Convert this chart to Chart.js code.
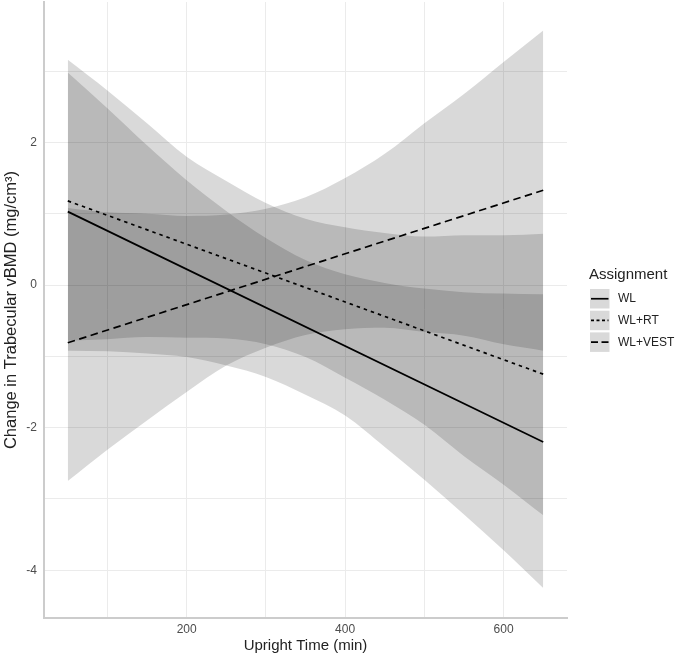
<!DOCTYPE html>
<html>
<head>
<meta charset="utf-8">
<script src="https://cdn.jsdelivr.net/npm/chart.js@4.4.0/dist/chart.umd.min.js"></script>
<style>
  html, body { margin: 0; padding: 0; background: #fff; }
</style>
</head>
<body>
<canvas id="chart" width="676" height="656"></canvas>
<script>
const uprightTime = [50, 100, 150, 200, 250, 300, 350, 400, 450, 500, 550, 600, 650];

const groups = ['WL', 'WL+RT', 'WL+VEST'];

// fitted lines are straight, so only their end points
const lineTime = [50, 650];
const wlFit = [1.03, -2.20];
const rtFit = [1.18, -1.25];
const vestFit = [-0.81, 1.33];

// confidence ribbons
const wlUpper = [2.98, 2.48, 1.96, 1.47, 1.04, 0.66, 0.35, 0.15, 0.03, -0.05, -0.10, -0.12, -0.13];
const wlLower = [-0.92, -0.93, -0.96, -1.01, -1.13, -1.29, -1.54, -1.83, -2.27, -2.73, -3.22, -3.72, -4.25];
const rtUpper = [3.16, 2.73, 2.27, 1.80, 1.46, 1.15, 0.93, 0.81, 0.73, 0.68, 0.70, 0.70, 0.72];
const rtLower = [-0.78, -0.76, -0.73, -0.74, -0.75, -0.83, -1.01, -1.30, -1.61, -1.96, -2.40, -2.80, -3.23];
const vestUpper = [1.08, 1.02, 1.00, 0.97, 0.99, 1.07, 1.23, 1.50, 1.84, 2.27, 2.68, 3.13, 3.57];
const vestLower = [-2.75, -2.31, -1.90, -1.50, -1.13, -0.88, -0.70, -0.62, -0.60, -0.66, -0.71, -0.83, -0.92];

// labelled ticks (the others are minor grid lines)
const xTickLabels = [200, 400, 600];
const yTickLabels = [-4, -2, 0, 2];

const FONT = '"Liberation Sans", Arial, sans-serif';
const ribbonFill = 'rgba(0,0,0,0.15)';
const lineDashes = [[], [3.5, 4], [7.5, 4.5]];
const keyDashes = [[], [3, 2.5], [7, 3.5]];

const toXY = (xs, ys) => xs.map((x, i) => ({ x: x, y: ys[i] }));

function ribbon(lo, hi) {
  const base = {
    borderColor: 'rgba(0,0,0,0)', borderWidth: 0, pointRadius: 0,
    cubicInterpolationMode: 'monotone', order: 2
  };
  return [
    Object.assign({ data: toXY(uprightTime, lo), fill: false }, base),
    Object.assign({ data: toXY(uprightTime, hi), fill: '-1', backgroundColor: ribbonFill }, base)
  ];
}

function fitLine(ys, i) {
  return {
    data: toXY(lineTime, ys), borderColor: '#000', borderWidth: 1.7,
    borderDash: lineDashes[i], pointRadius: 0, fill: false, order: 1
  };
}

// ggplot-like legend with grey key boxes
const assignmentLegend = {
  id: 'assignmentLegend',
  afterDraw(chart) {
    const ctx = chart.ctx;
    ctx.save();
    ctx.fillStyle = '#222';
    ctx.textBaseline = 'middle';
    ctx.font = '15px ' + FONT;
    ctx.fillText('Assignment', 589, 275);
    groups.forEach((g, i) => {
      const top = 289 + i * 21.7;
      ctx.fillStyle = '#d9d9d9';
      ctx.fillRect(590, top, 19.5, 19.5);
      ctx.strokeStyle = '#000';
      ctx.lineWidth = 1.7;
      ctx.setLineDash(keyDashes[i]);
      ctx.beginPath();
      ctx.moveTo(591, top + 9.75);
      ctx.lineTo(608.5, top + 9.75);
      ctx.stroke();
      ctx.setLineDash([]);
      ctx.fillStyle = '#222';
      ctx.font = '12px ' + FONT;
      ctx.fillText(g, 618, top + 10);
    });
    ctx.restore();
  }
};

new Chart(document.getElementById('chart'), {
  type: 'line',
  data: {
    datasets: [
      ...ribbon(wlLower, wlUpper),
      ...ribbon(rtLower, rtUpper),
      ...ribbon(vestLower, vestUpper),
      fitLine(wlFit, 0),
      fitLine(rtFit, 1),
      fitLine(vestFit, 2)
    ]
  },
  options: {
    responsive: false,
    animation: false,
    devicePixelRatio: 1,
    layout: { padding: { top: 2, right: 109, left: 0, bottom: 0 } },
    plugins: {
      legend: { display: false },
      tooltip: { enabled: false },
      filler: { drawTime: 'beforeDatasetsDraw' }
    },
    scales: {
      x: {
        type: 'linear', min: 20, max: 680,
        ticks: {
          stepSize: 100, includeBounds: false, autoSkip: false, maxRotation: 0,
          callback: v => xTickLabels.includes(v) ? String(v) : '',
          color: '#4d4d4d', font: { family: FONT, size: 12 }, padding: 4
        },
        grid: { color: '#ebebeb', lineWidth: 1, drawTicks: false },
        border: { color: '#cccccc', width: 2 },
        title: {
          display: true, text: 'Upright Time (min)', color: '#222',
          font: { family: FONT, size: 15 }, padding: { top: 0, bottom: 1 }
        },
        afterFit: s => { s.height = 38; s.paddingLeft = 0; s.paddingRight = 0; }
      },
      y: {
        type: 'linear', min: -4.67, max: 3.97,
        ticks: {
          stepSize: 1, includeBounds: false, autoSkip: false,
          callback: v => yTickLabels.includes(v) ? String(v) : '',
          color: '#4d4d4d', font: { family: FONT, size: 12 }, padding: 7
        },
        grid: { color: '#ebebeb', lineWidth: 1, drawTicks: false },
        border: { color: '#cccccc', width: 2 },
        title: {
          display: true, text: 'Change in Trabecular vBMD (mg/cm³)', color: '#222',
          font: { family: FONT, size: 16.5 }, padding: { top: 2, bottom: 0 }
        },
        afterFit: s => { s.width = 44; s.paddingTop = 0; s.paddingBottom = 0; }
      }
    }
  },
  plugins: [assignmentLegend]
});
</script>
</body>
</html>
